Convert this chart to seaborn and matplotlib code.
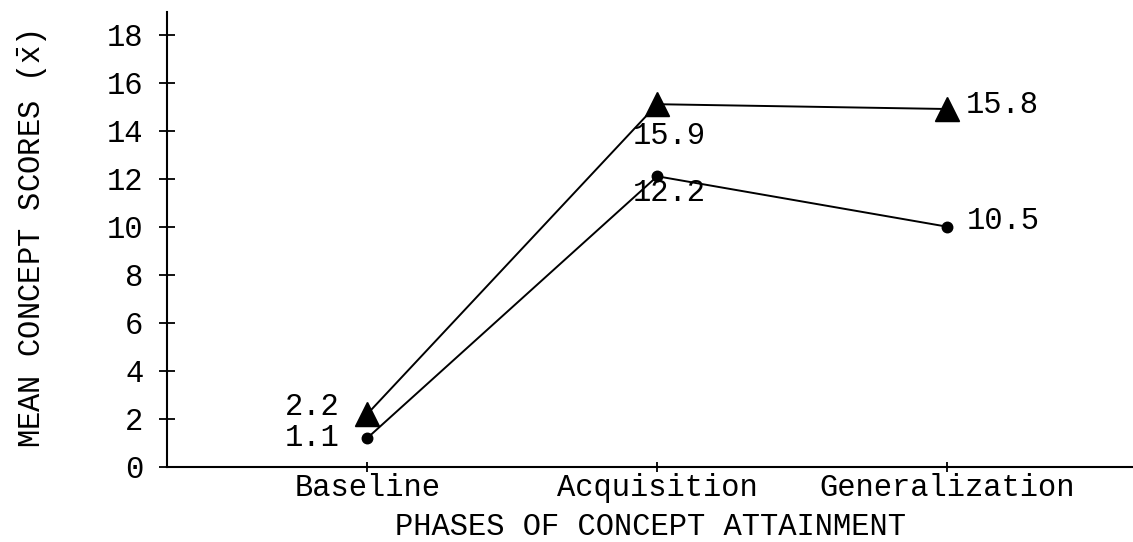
import numpy as np
import pandas as pd
import matplotlib
matplotlib.use('Agg')
import matplotlib.pyplot as plt
import seaborn as sns

# ---- data ----
phases = ["Baseline", "Acquisition", "Generalization"]
triangle_scores = [2.2, 15.1, 14.9]      # plotted positions
circle_scores = [1.2, 12.1, 10.0]
triangle_labels = ["2.2", "15.9", "15.8"]  # printed values
circle_labels = ["1.1", "12.2", "10.5"]
y_ticks = list(range(0, 19, 2))

sns.set_theme(style="white")
plt.rcParams['font.family'] = ['Liberation Mono', 'DejaVu Sans Mono']
plt.rcParams['mathtext.fontset'] = 'custom'
plt.rcParams['mathtext.rm'] = 'Liberation Mono'
plt.rcParams['mathtext.it'] = 'Liberation Mono'
plt.rcParams['text.color'] = 'black'

FS = 22

fig = plt.figure(figsize=(11.33, 5.42), dpi=100)
ax = fig.add_axes([0.1474, 0.1384, 0.8526, 0.84])

df_tri = pd.DataFrame({"phase": phases, "score": triangle_scores})
df_cir = pd.DataFrame({"phase": phases, "score": circle_scores})

sns.pointplot(data=df_tri, x="phase", y="score", order=phases, color="black",
              markers="^", markersize=17, linewidth=1.4, ax=ax)
sns.pointplot(data=df_cir, x="phase", y="score", order=phases, color="black",
              markers="o", markersize=7.5, linewidth=1.4, ax=ax)

# value labels (offsets in points)
tri_off = [(-20, 5, 'right', 'center'), (-18, -23, 'left', 'center'), (13, 3, 'left', 'center')]
cir_off = [(-20, 0, 'right', 'center'), (-18, -12, 'left', 'center'), (14, 4, 'left', 'center')]
for i, (lab, off) in enumerate(zip(triangle_labels, tri_off)):
    ax.annotate(lab, (i, triangle_scores[i]), xytext=off[:2], textcoords='offset points',
                ha=off[2], va=off[3], fontsize=FS, color='black')
for i, (lab, off) in enumerate(zip(circle_labels, cir_off)):
    ax.annotate(lab, (i, circle_scores[i]), xytext=off[:2], textcoords='offset points',
                ha=off[2], va=off[3], fontsize=FS, color='black')

ax.set_xlim(-0.69, 2.64)
ax.set_ylim(0, 18.95)
ax.set_yticks(y_ticks)
ax.set_yticklabels([str(t) for t in y_ticks], fontsize=FS)
ax.set_xticks(range(len(phases)))
ax.set_xticklabels(phases, fontsize=FS)

sns.despine(ax=ax)
for s in ["left", "bottom"]:
    ax.spines[s].set_color("black")
    ax.spines[s].set_linewidth(1.5)
ax.tick_params(axis='y', direction='inout', length=12, width=1.3, colors='black', pad=11, left=True)
ax.tick_params(axis='x', direction='inout', length=7, width=1.3, colors='black', pad=1, bottom=True)

ax.set_xlabel("PHASES OF CONCEPT ATTAINMENT", fontsize=FS, labelpad=6, color='black')
ax.set_ylabel(r"MEAN CONCEPT SCORES ($\bar{\mathrm{x}}$)", fontsize=FS, labelpad=42, color='black')

fig.savefig("out.png", dpi=100)
